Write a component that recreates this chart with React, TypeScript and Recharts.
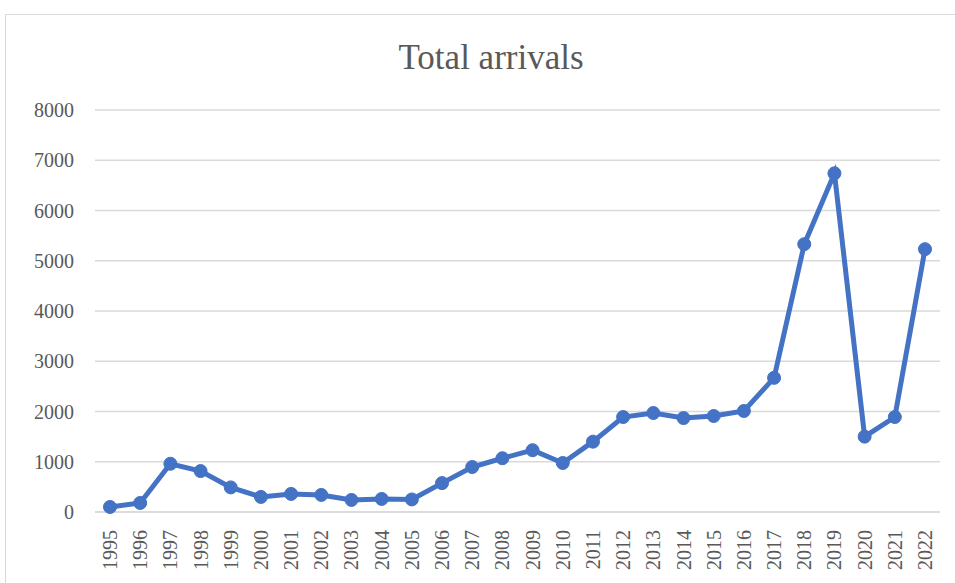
import { LineChart, Line, XAxis, YAxis, CartesianGrid } from 'recharts'

const YEARS = [
  '1995', '1996', '1997', '1998', '1999', '2000', '2001', '2002', '2003', '2004',
  '2005', '2006', '2007', '2008', '2009', '2010', '2011', '2012', '2013', '2014',
  '2015', '2016', '2017', '2018', '2019', '2020', '2021', '2022',
]
const ARRIVALS = [
  100, 180, 960, 815, 490, 300, 360, 340, 240, 260,
  250, 575, 895, 1070, 1230, 975, 1400, 1890, 1970, 1870,
  1910, 2010, 2670, 5330, 6740, 1500, 1890, 5230,
]
const Y_TICKS = [0, 1000, 2000, 3000, 4000, 5000, 6000, 7000, 8000]

const data = YEARS.map((year, i) => ({ year, arrivals: ARRIVALS[i] }))

const FONT = '"Liberation Serif", "Times New Roman", serif'
const TEXT = '#595959'

function YearTick({ x, y, payload }: any) {
  return (
    <text
      x={x}
      y={y + 10}
      transform={`rotate(-90, ${x}, ${y + 10})`}
      textAnchor="end"
      dominantBaseline="central"
      fill={TEXT}
      fontFamily={FONT}
      fontSize={20}
    >
      {payload.value}
    </text>
  )
}

export default function App() {
  return (
    <div style={{ position: 'absolute', left: 0, top: 0, width: 955, height: 583, background: '#fff' }}>
      <div
        style={{
          position: 'absolute',
          left: 5,
          top: 14,
          width: 960,
          height: 600,
          border: '1px solid #d9d9d9',
        }}
      />
      <div
        style={{
          position: 'absolute',
          left: 0,
          width: 982,
          top: 36,
          textAlign: 'center',
          fontFamily: FONT,
          fontSize: 35,
          color: TEXT,
          lineHeight: '44px',
        }}
      >
        Total arrivals
      </div>
      <div style={{ position: 'absolute', left: 0, top: 0 }}>
        <LineChart width={955} height={583} data={data} margin={{ top: 110, right: 15, bottom: 0, left: 0 }}>
          <CartesianGrid vertical={false} stroke="#d9d9d9" strokeWidth={1.5} />
          <XAxis
            dataKey="year"
            interval={0}
            height={71}
            padding={{ left: 15, right: 15 }}
            tickLine={false}
            axisLine={{ stroke: '#d9d9d9', strokeWidth: 1.5 }}
            tick={<YearTick />}
          />
          <YAxis
            width={95}
            domain={[0, 8000]}
            ticks={Y_TICKS}
            axisLine={false}
            tickLine={false}
            tickSize={6}
            tickMargin={15}
            tick={{ fill: TEXT, fontFamily: FONT, fontSize: 20 }}
          />
          <Line
            type="linear"
            dataKey="arrivals"
            stroke="#4472C4"
            strokeWidth={5}
            dot={{ r: 6.5, fill: '#4472C4', stroke: '#4472C4', strokeWidth: 1 }}
            isAnimationActive={false}
          />
        </LineChart>
      </div>
    </div>
  )
}
